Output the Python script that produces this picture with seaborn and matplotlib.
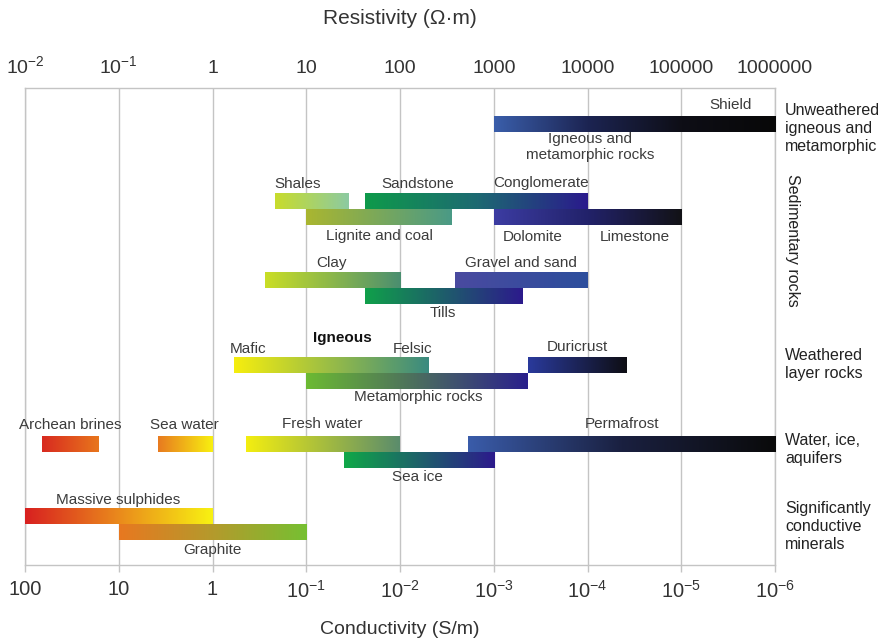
import numpy as np
import matplotlib
matplotlib.use("Agg")
import matplotlib.pyplot as plt
from matplotlib import font_manager
from matplotlib.colors import LinearSegmentedColormap
import seaborn as sns

# ---------------------------------------------------------------- data
# resistivity ranges (ohm-m) of each material bar
bar_names = [
    "Igneous and metamorphic rocks", "Shales", "Sandstone / Conglomerate",
    "Lignite and coal", "Dolomite / Limestone", "Clay", "Gravel and sand",
    "Tills", "Igneous (mafic / felsic)", "Metamorphic rocks", "Duricrust",
    "Archean brines", "Sea water", "Fresh water", "Permafrost", "Sea ice",
    "Massive sulphides", "Graphite",
]
rho_low = [1e3, 4.6, 42, 10, 1e3, 3.6, 390, 42, 1.7, 10, 2300,
           0.015, 0.26, 2.3, 530, 25, 0.01, 0.1]
rho_high = [1e6, 28, 1e4, 360, 1e5, 100, 1e4, 2000, 200, 2300, 26000,
            0.06, 1.0, 100, 1e6, 1000, 1.0, 10]

# decade tick labels
decades = [-2, -1, 0, 1, 2, 3, 4, 5, 6]
resistivity_labels = [r"$\mathregular{10^{-2}}$", r"$\mathregular{10^{-1}}$",
                      "1", "10", "100", "1000", "10000", "100000", "1000000"]
conductivity_labels = ["100", "10", "1", r"$\mathregular{10^{-1}}$",
                       r"$\mathregular{10^{-2}}$", r"$\mathregular{10^{-3}}$",
                       r"$\mathregular{10^{-4}}$", r"$\mathregular{10^{-5}}$",
                       r"$\mathregular{10^{-6}}$"]

group_labels = ["Unweathered\nigneous and\nmetamorphic", "Sedimentary rocks",
                "Weathered\nlayer rocks", "Water, ice,\naquifers",
                "Significantly\nconductive\nminerals"]

# ---------------------------------------------------------------- styling
# vertical lane of each bar (1 unit = one bar height, counted downward)
bar_lane = [2.25, 7.05, 7.05, 8.05, 8.05, 12.0, 12.0, 13.0, 17.3, 18.3, 17.3,
            22.25, 22.25, 22.25, 22.25, 23.25, 26.75, 27.75]

bar_colors = [
    ["#3a5eaa", "#1c2452", "#0e0e16", "#080808"],
    ["#c8dc2c", "#8ccaa2"],
    ["#0e9a4a", "#1d6a72", "#2a1a8c"],
    ["#aab630", "#4a9a86"],
    ["#3c3ca2", "#22226a", "#121216"],
    ["#cade26", "#4a8e70"],
    ["#4a4aa0", "#2c4e9c"],
    ["#10a04a", "#2c1a8c"],
    ["#f6ee0e", "#3a8a80"],
    ["#6cba32", "#2a208c"],
    ["#2a3a9c", "#0e0e14"],
    ["#d82a20", "#e8761c"],
    ["#e87a20", "#f8f010"],
    ["#f4ee10", "#5a8c6c"],
    ["#3a5caa", "#1a2040", "#0a0a0a"],
    ["#10a848", "#2c1a8c"],
    ["#d82020", "#ea8a1c", "#f8f212"],
    ["#e87820", "#b49a2c", "#76c032"],
]


def pick_font(name, fallback):
    try:
        font_manager.findfont(name, fallback_to_default=False)
        return name
    except Exception:
        return fallback


sns.set_theme(style="white")
REG = "Liberation Sans"
NARROW = pick_font("Liberation Sans Narrow", REG)
plt.rcParams["font.family"] = [REG, "DejaVu Sans"]
plt.rcParams["mathtext.fontset"] = "custom"
plt.rcParams["mathtext.rm"] = REG

GRID = "#c4c4c4"
TXT = "#3c3c3c"

fig = plt.figure(figsize=(8.86, 6.43), dpi=100)
W, H = 886, 643
ax = fig.add_axes([25 / W, 1 - 565 / H, 750 / W, 477 / H])

# gradient bars, positioned on a log10 resistivity axis
grad = np.linspace(0, 1, 256).reshape(1, -1)
for name, lo, hi, lane, cols in zip(bar_names, rho_low, rho_high, bar_lane, bar_colors):
    cmap = LinearSegmentedColormap.from_list(name, cols)
    ax.imshow(grad, cmap=cmap, aspect="auto", interpolation="bilinear",
              extent=(np.log10(lo), np.log10(hi), lane + 0.5, lane - 0.5),
              zorder=3)

ax.set_xlim(decades[0], decades[-1])
ax.set_ylim(477 / 16, 0)
ax.set_yticks([])

# vertical decade grid and frame
for d in decades:
    ax.axvline(d, color=GRID, lw=1.0, zorder=1)
for s in ax.spines.values():
    s.set_color(GRID)
    s.set_linewidth(1.0)

ax.set_xticks(decades)
ax.set_xticklabels(conductivity_labels, fontsize=14.5, color="#333333",
                   family=[NARROW, "DejaVu Sans"])
ax.tick_params(axis="x", which="both", bottom=True, length=5, width=1.0,
               color=GRID, pad=6)

top = ax.secondary_xaxis("top")
top.set_xticks(decades)
top.set_xticklabels(resistivity_labels, fontsize=14, color="#333333")
top.tick_params(length=0, pad=8)
top.spines["top"].set_visible(False)

fig.text(400 / W, 1 - 19 / H, "Resistivity (\u03a9\u00b7m)", ha="center",
         va="center", fontsize=15, color="#333333")
fig.text(400 / W, 1 - 630 / H, "Conductivity (S/m)", ha="center",
         va="center", fontsize=14, color="#333333",
         family=[NARROW, "DejaVu Sans"])

# material labels
labels = [
    ("Shield", 5.53, 1.06, REG, "normal"),
    ("Igneous and\nmetamorphic rocks", 4.03, 3.7, REG, "normal"),
    ("Shales", 0.91, 6.0, REG, "normal"),
    ("Sandstone", 2.19, 6.0, REG, "normal"),
    ("Conglomerate", 3.50, 5.95, REG, "normal"),
    ("Lignite and coal", 1.78, 9.25, REG, "normal"),
    ("Dolomite", 3.41, 9.3, REG, "normal"),
    ("Limestone", 4.50, 9.3, REG, "normal"),
    ("Clay", 1.27, 10.94, REG, "normal"),
    ("Gravel and sand", 3.29, 10.94, REG, "normal"),
    ("Tills", 2.46, 14.06, REG, "normal"),
    ("Igneous", 1.39, 15.6, REG, "bold"),
    ("Mafic", 0.38, 16.3, REG, "normal"),
    ("Felsic", 2.13, 16.3, REG, "normal"),
    ("Duricrust", 3.89, 16.2, REG, "normal"),
    ("Metamorphic rocks", 2.19, 19.3, REG, "normal"),
    ("Archean brines", -1.52, 21.06, NARROW, "normal"),
    ("Sea water", -0.30, 21.06, NARROW, "normal"),
    ("Fresh water", 1.17, 21.0, REG, "normal"),
    ("Permafrost", 4.37, 21.0, NARROW, "normal"),
    ("Sea ice", 2.19, 24.3, NARROW, "normal"),
    ("Massive sulphides", -1.01, 25.75, NARROW, "normal"),
    ("Graphite", 0.0, 28.9, NARROW, "normal"),
]
for text, x, y, fam, weight in labels:
    size = 12 if fam == NARROW and NARROW != REG else 11
    ax.text(x, y, text, ha="center", va="center", fontsize=size,
            fontweight=weight, color="#111111" if weight == "bold" else TXT,
            family=[fam, "DejaVu Sans"], linespacing=1.15, zorder=4)

# group labels on the right
group_pos = [(6.107, 2.56, 0), (6.19, 9.5, 270), (6.107, 17.25, 0),
             (6.107, 22.6, 0), (6.107, 27.4, 0)]
for i, (text, (x, y, rot)) in enumerate(zip(group_labels, group_pos)):
    fam = NARROW if i >= 3 else REG
    size = 12.5 if (fam == NARROW and NARROW != REG) else 11.5
    ax.text(x, y, text, ha="left" if rot == 0 else "center", va="center",
            rotation=rot, fontsize=size, color="#222222",
            family=[fam, "DejaVu Sans"], linespacing=1.25, clip_on=False)

fig.savefig("out.png", dpi=100, facecolor="white")
